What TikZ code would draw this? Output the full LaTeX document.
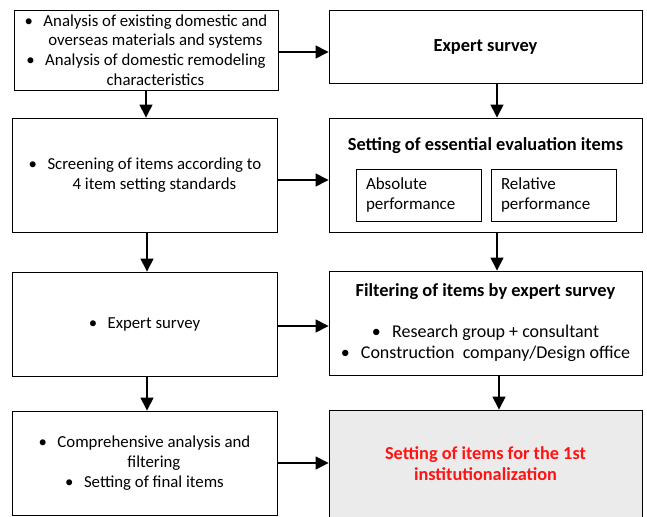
\documentclass[tikz,border=0pt]{standalone}
\usepackage{fontspec}
\setmainfont{Carlito}
\usetikzlibrary{arrows.meta}
\newcommand{\bl}{\makebox[1.12em][l]{•}}
\newcommand{\ind}{\hspace*{1.12em}}
\tikzset{
  box/.style={draw=black, line width=0.9pt, inner sep=0pt, align=center, font=\fontsize{16.8}{19.8}\selectfont},
  inbox/.style={draw=black, line width=0.9pt, inner sep=0pt, minimum width=125pt, minimum height=52pt, align=left, font=\fontsize{17}{19.5}\selectfont},
  title/.style={font=\fontsize{18.4}{21}\selectfont\bfseries, inner sep=0pt},
  arr/.style={line width=1.4pt, -{Triangle[length=13pt,width=13pt]}},
}
\begin{document}
\begin{tikzpicture}[x=1pt,y=-1pt]
\useasboundingbox (0,0) rectangle (647,516);
% left column
\node[box, minimum width=264pt, minimum height=80pt] (L1) at (146,50)
  {\bl Analysis of existing domestic and\\
   \ind overseas materials and systems\\
   \bl Analysis of domestic remodeling\\
   \ind characteristics};
\node[box, minimum width=265pt, minimum height=114pt] (L2) at (145,175)
  {\bl Screening of items according to\\
   \ind 4 item setting standards};
\node[box, minimum width=265pt, minimum height=104pt] (L3) at (144.5,324)
  {\bl Expert survey};
\node[box, minimum width=265pt, minimum height=104pt] (L4) at (144.5,463)
  {\bl Comprehensive analysis and\\
   \ind filtering\\
   \bl Setting of final items};
% right column
\node[box, minimum width=313pt, minimum height=73pt, title] (R1) at (485.5,46.5) {Expert survey};
\node[box, minimum width=313pt, minimum height=114pt] (R2) at (485.5,175) {};
\node[title] (R2t) at (485.5,146) {Setting of essential evaluation items};
\node[inbox, text width=105pt] (A1) at (418.5,195) {Absolute\\performance};
\node[inbox, text width=105pt] (A2) at (553.5,195) {Relative\\performance};
\node[box, minimum width=313pt, minimum height=104pt] (R3) at (485.5,323) {};
\node[title] (R3t) at (485.5,292) {Filtering of items by expert survey};
\node[align=center, inner sep=0pt, font=\fontsize{18}{21}\selectfont] (R3b) at (485.5,343)
  {\bl Research group + consultant\\
   \bl Construction\ \ company/Design office};
\node[box, fill=black!8, minimum width=313pt, minimum height=108pt,
      font=\fontsize{18.3}{21}\selectfont\bfseries, text={rgb,255:red,255;green,20;blue,20}] (R4) at (485.5,464)
  {Setting of items for the 1st\\institutionalization};
% helper coordinates
\path ([yshift=-2pt]L1.east) coordinate (l1e)
      ([yshift=-5pt]L2.east) coordinate (l2e)
      ([yshift=-2pt]L3.east) coordinate (l3e)
      ([xshift=0pt]L1.south) coordinate (l1s)
      ([xshift=2pt]L2.south) coordinate (l2s)
      ([xshift=2.5pt]L3.south) coordinate (l3s)
      ([xshift=11.5pt]R1.south) coordinate (r1s)
      ([xshift=11.5pt]R2.south) coordinate (r2s)
      ([xshift=13.5pt]R3.south) coordinate (r3s);
% horizontal arrows
\draw[arr] (l1e) -- (R1.west |- l1e);
\draw[arr] (l2e) -- (R2.west |- l2e);
\draw[arr] (l3e) -- (R3.west |- l3e);
\draw[arr] (L4.east) -- (R4.west |- L4.east);
% vertical arrows left
\draw[arr] (l1s) -- (L2.north -| l1s);
\draw[arr] (l2s) -- (L3.north -| l2s);
\draw[arr] (l3s) -- (L4.north -| l3s);
% vertical arrows right
\draw[arr] (r1s) -- (R2.north -| r1s);
\draw[arr] (r2s) -- (R3.north -| r2s);
\draw[arr] (r3s) -- (R4.north -| r3s);
\end{tikzpicture}
\end{document}
